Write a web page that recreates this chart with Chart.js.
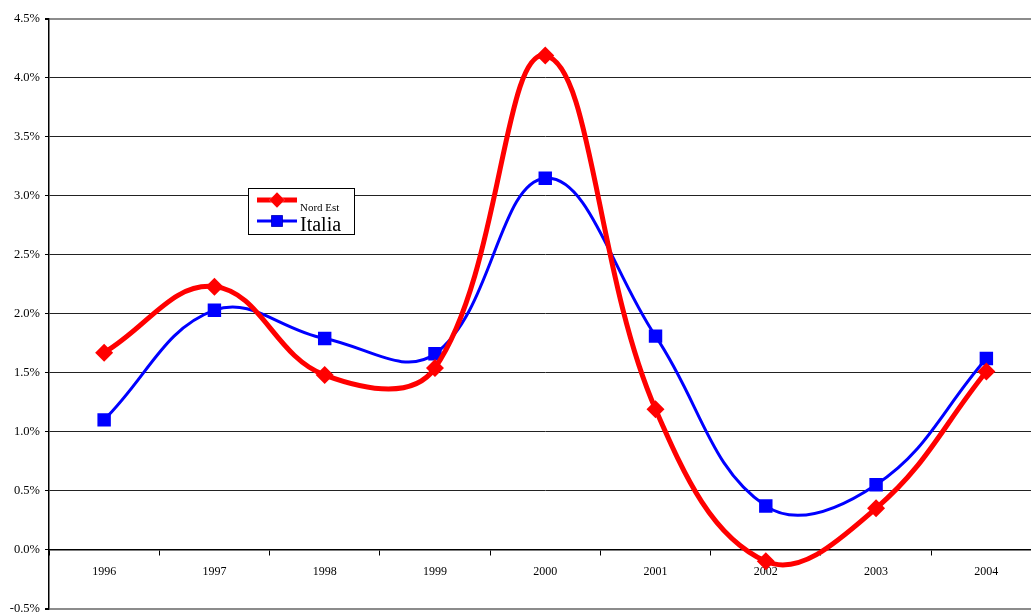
<!DOCTYPE html>
<html>
<head>
<meta charset="utf-8">
<script src="https://cdn.jsdelivr.net/npm/chart.js@4/dist/chart.umd.min.js"></script>
<style>
  html, body { margin: 0; padding: 0; background: #fff; overflow: hidden; }
  #wrap { width: 1031px; height: 614px; overflow: hidden; }
</style>
</head>
<body>
<div id="wrap"><canvas id="chart" width="1051" height="618"></canvas></div>
<script>
const years = ['1996', '1997', '1998', '1999', '2000', '2001', '2002', '2003', '2004'];
const nordEst = [1.67, 2.23, 1.48, 1.54, 4.19, 1.19, -0.10, 0.35, 1.51];
const italia = [1.10, 2.03, 1.79, 1.66, 3.15, 1.81, 0.37, 0.55, 1.62];

const font = 'Liberation Serif, Times New Roman, serif';

// legend box drawn by hand, like the old spreadsheet one
const boxLegend = {
    id: 'boxLegend',
    afterDraw(chart) {
        const ctx = chart.ctx;
        const sets = chart.data.datasets;
        ctx.save();
        ctx.fillStyle = '#fff';
        ctx.fillRect(248, 188, 107, 47);
        ctx.strokeStyle = '#000';
        ctx.lineWidth = 1;
        ctx.strokeRect(248.5, 188.5, 106, 46);
        const rows = [{y: 200, size: 11, ty: 211}, {y: 221, size: 20, ty: 231}];
        rows.forEach((r, i) => {
            const ds = sets[i];
            ctx.strokeStyle = ds.borderColor;
            ctx.lineWidth = ds.borderWidth;
            ctx.beginPath();
            ctx.moveTo(257, r.y);
            ctx.lineTo(297, r.y);
            ctx.stroke();
            Chart.helpers.drawPoint(ctx, {
                pointStyle: ds.pointStyle,
                radius: ds.pointRadius * 0.85,
                rotation: 0,
                borderWidth: 0
            }, 277, r.y);
            ctx.fillStyle = ds.backgroundColor;
            ctx.fill();
            ctx.fillStyle = '#000';
            ctx.font = r.size + 'px ' + font;
            ctx.textBaseline = 'alphabetic';
            ctx.fillText(ds.label, 300, r.ty);
        });
        ctx.restore();
    }
};

const ctx = document.getElementById('chart').getContext('2d');
const myChart = new Chart(ctx, {
    type: 'line',
    data: {
        labels: years,
        datasets: [{
            label: 'Nord Est',
            data: nordEst,
            borderColor: '#ff0000',
            backgroundColor: '#ff0000',
            borderWidth: 5,
            pointStyle: 'rectRot',
            pointRadius: 9,
            pointBorderWidth: 0,
            tension: 0.4
        }, {
            label: 'Italia',
            data: italia,
            borderColor: '#0000ff',
            backgroundColor: '#0000ff',
            borderWidth: 3,
            pointStyle: 'rect',
            pointRadius: 9.5,
            pointBorderWidth: 0,
            tension: 0.4
        }]
    },
    options: {
        responsive: false,
        animation: false,
        layout: { padding: { top: 19, bottom: 2, left: 0, right: 0 } },
        plugins: {
            legend: { display: false },
            tooltip: { enabled: false }
        },
        scales: {
            x: {
                position: { y: 0 },
                offset: true,
                afterFit: (scale) => { scale.height = 0; },
                grid: {
                    offset: true,
                    drawOnChartArea: false,
                    drawTicks: true,
                    tickLength: 5,
                    color: '#000'
                },
                border: { color: '#000', width: 1.5 },
                ticks: {
                    color: '#000',
                    padding: 10,
                    font: { family: font, size: 12 },
                    maxRotation: 0
                }
            },
            y: {
                min: -0.5,
                max: 4.5,
                afterFit: (scale) => {
                    scale.width = 49;
                    scale.paddingTop = 0;
                    scale.paddingBottom = 0;
                },
                grid: {
                    color: (c) => (c.tick && (c.tick.value === 4.5 || c.tick.value === -0.5)) ? '#8c8c8c' : '#222',
                    lineWidth: (c) => (c.tick && (c.tick.value === 4.5 || c.tick.value === -0.5)) ? 2 : 1,
                    tickLength: 4,
                    tickColor: '#000'
                },
                border: { color: '#000', width: 1.5 },
                ticks: {
                    stepSize: 0.5,
                    color: '#000',
                    padding: 5,
                    font: { family: font, size: 12.5 },
                    callback: (v) => v.toFixed(1) + '%'
                }
            }
        }
    },
    plugins: [boxLegend]
});
</script>
</body>
</html>
